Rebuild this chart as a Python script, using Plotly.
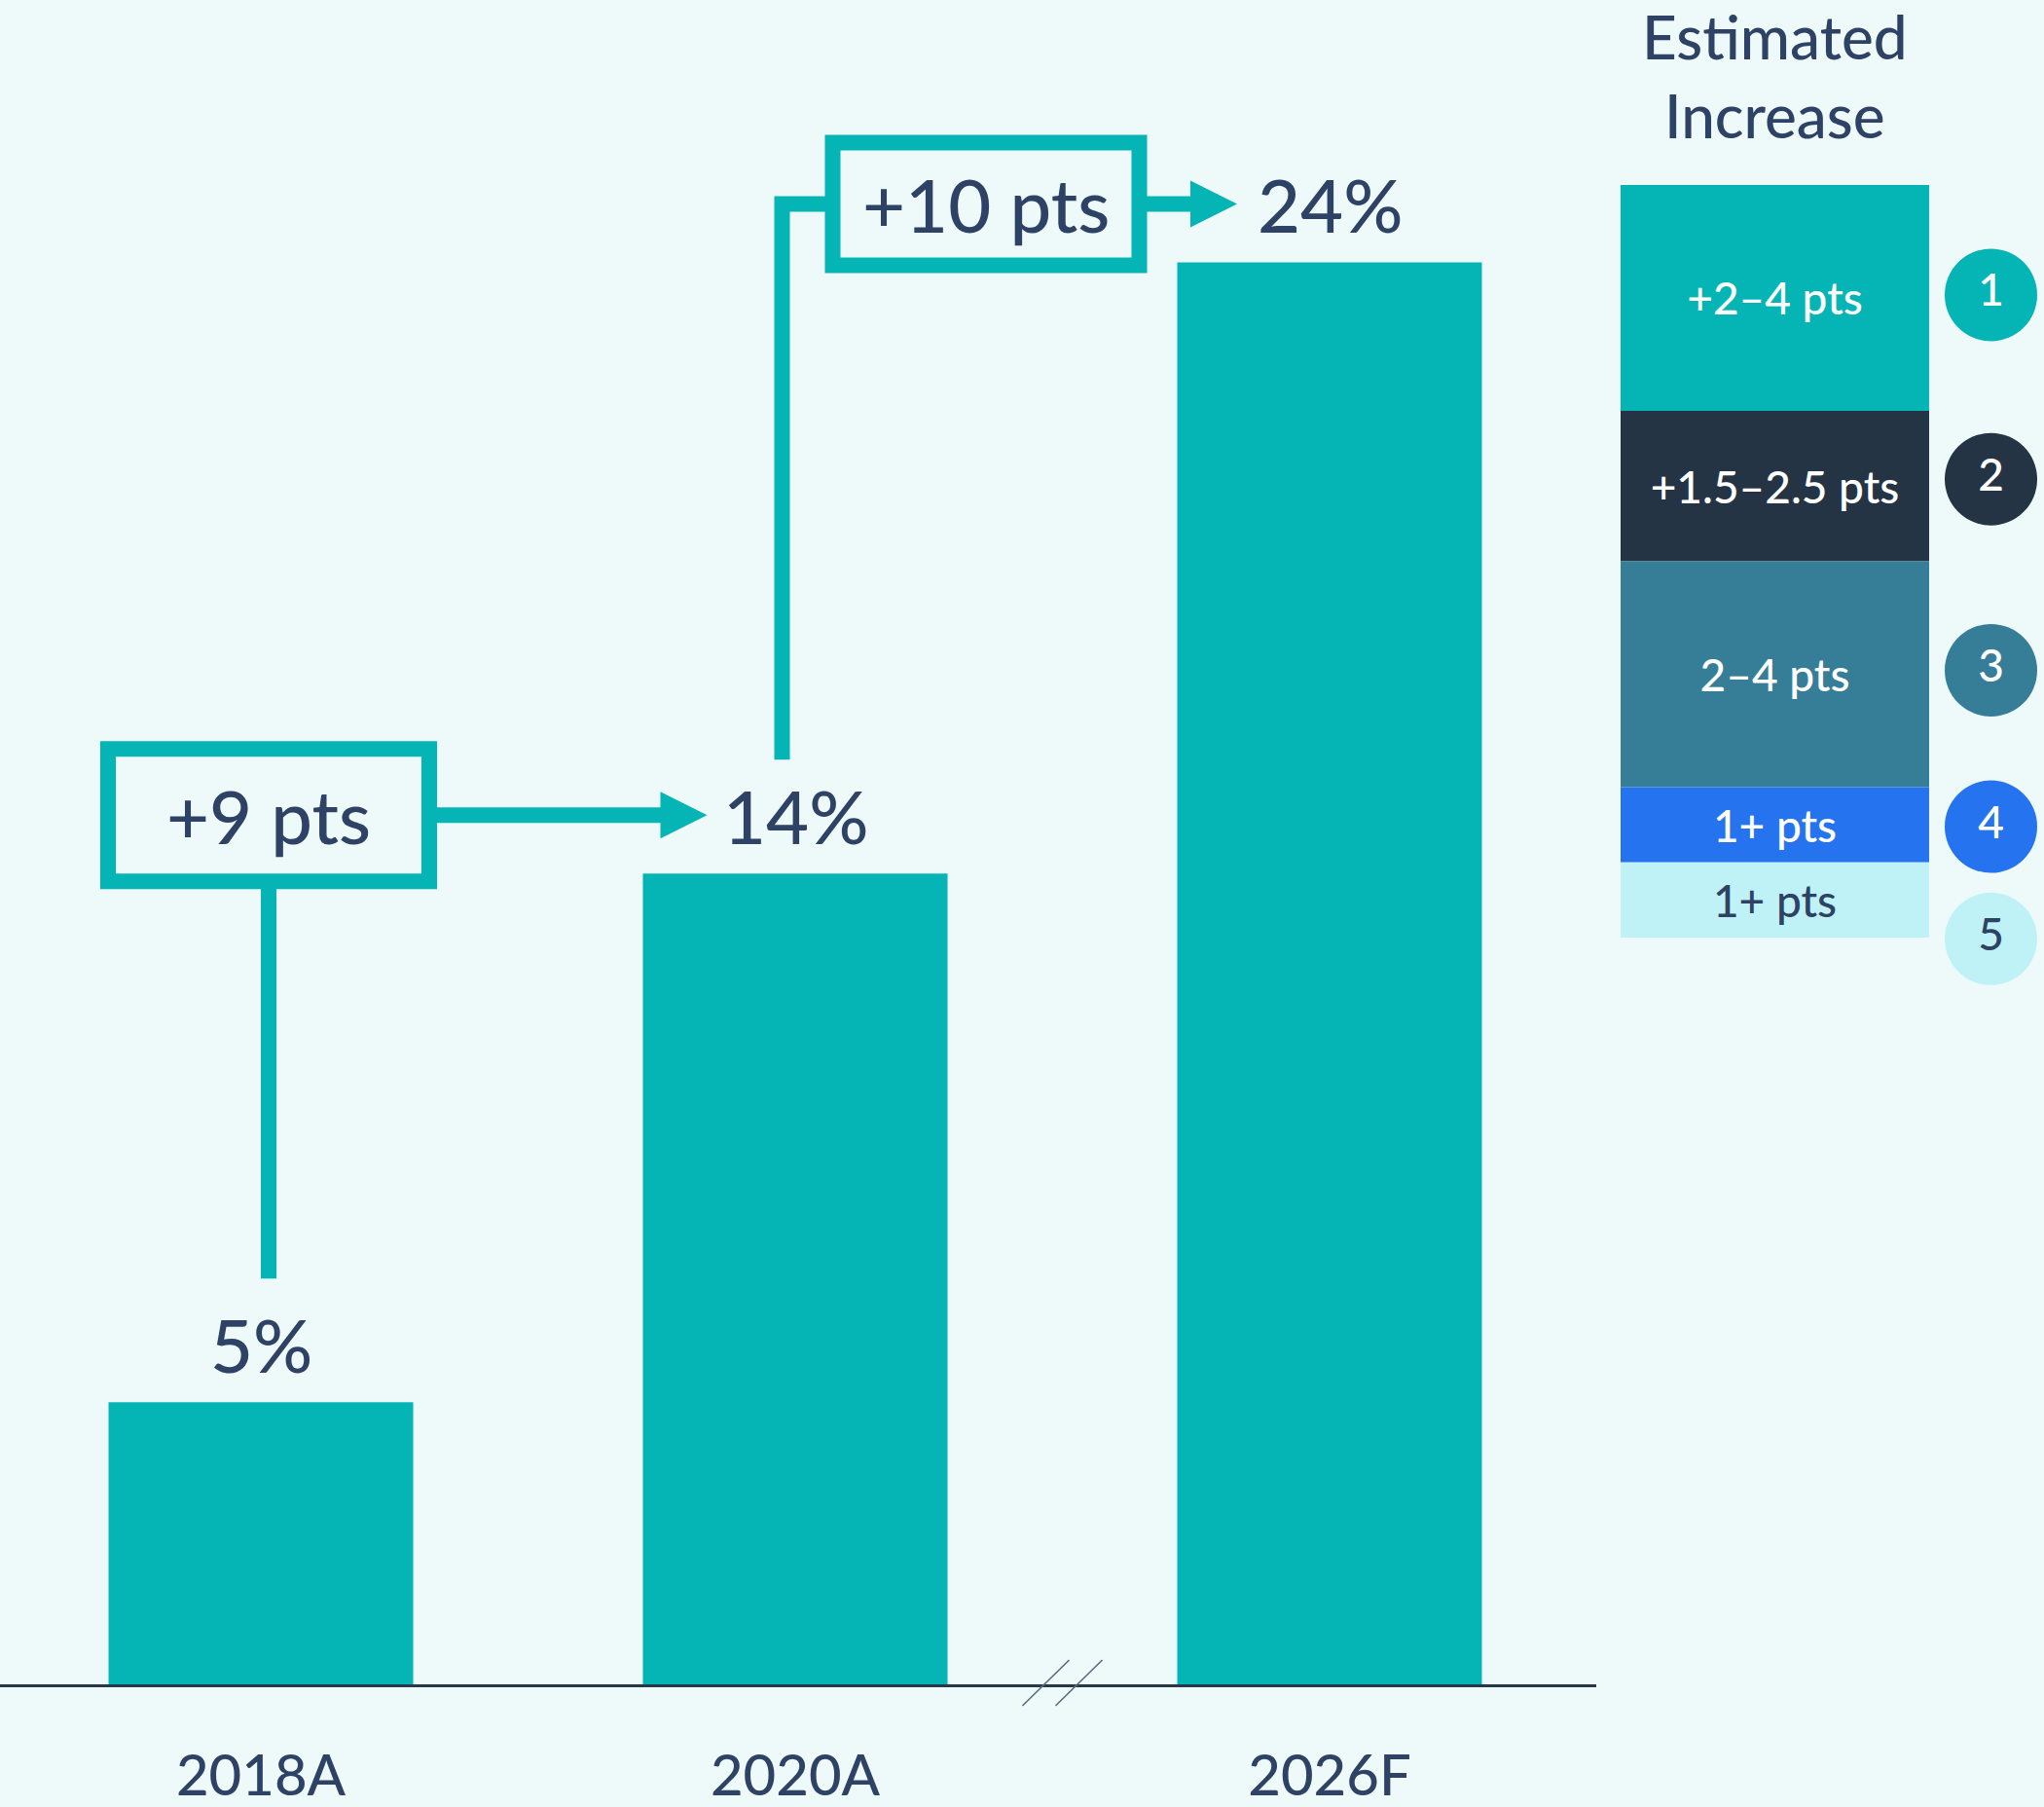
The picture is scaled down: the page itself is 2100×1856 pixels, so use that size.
import plotly.graph_objects as go

# ---------------- data ----------------
categories = ["2018A", "2020A", "2026F"]
share_values = [4.8, 13.8, 24.2]          # bar heights (%)
share_labels = ["5%", "14%", "24%"]
step_labels = ["+9 pts", "+10 pts"]

legend_title = "Estimated<br>Increase"
driver_labels = ["+2–4 pts", "+1.5–2.5 pts", "2–4 pts", "1+ pts", "1+ pts"]
driver_values = [3, 2, 3, 1, 1]             # top to bottom
driver_numbers = ["1", "2", "3", "4", "5"]

# ---------------- style ----------------
W, H = 2100, 1856
BG = "#EEFAFA"
TEAL = "#05B4B5"
NAVY = "#2D4265"
AXIS = "#27384A"
driver_colors = ["#05B4B5", "#243444", "#367D97", "#2673F0", "#BEF2F6"]
driver_text_colors = ["white", "white", "white", "white", NAVY]
FONT = "Lato"
FW = 500

PLOT_H = 1730            # plot area height in px (bottom margin 126)
MAIN_W = 1640            # width of main x axis in px
X_RANGE = [-0.4882, 2.4991]
PX_X = MAIN_W / (X_RANGE[1] - X_RANGE[0])
PX_Y = 60.35
Y_RANGE = [0, PLOT_H / PX_Y]

LEG_X0 = 1665
LEG_W = 317
X2_RANGE = [-0.5, -0.5 + (W - LEG_X0) / LEG_W]
PX_Y2 = 77.3
LEG_BASE_PX = 963
Y2_RANGE = [-(PLOT_H - LEG_BASE_PX) / PX_Y2, LEG_BASE_PX / PX_Y2]
circle_x = -0.5 + (2045.5 - LEG_X0) / LEG_W
circle_nudge_px = [3, 7, 4, -2, -40]


def dx(p):
    return p / PX_X


def dy(p):
    return p / PX_Y


xpos = list(range(len(categories)))
label_y = [v + dy(60) for v in share_values]

fig = go.Figure()

fig.add_trace(go.Bar(
    x=xpos, y=share_values, width=313 / PX_X,
    marker=dict(color=TEAL, line=dict(width=0)),
    hoverinfo="skip", showlegend=False,
))

# legend stack
n = len(driver_values)
bases = [sum(driver_values[i + 1:]) for i in range(n)]
fig.add_trace(go.Bar(
    x=[0] * n, y=driver_values, base=bases, width=1,
    xaxis="x2", yaxis="y2",
    marker=dict(color=driver_colors, line=dict(width=0)),
    text=driver_labels, textposition="inside", insidetextanchor="middle",
    textangle=0, constraintext="none",
    textfont=dict(family=FONT, size=46, color=driver_text_colors, weight=FW),
    hoverinfo="skip", showlegend=False,
))

mids = [b + v / 2 + nd / PX_Y2 for b, v, nd in zip(bases, driver_values, circle_nudge_px)]
fig.add_trace(go.Scatter(
    x=[circle_x] * n, y=mids, xaxis="x2", yaxis="y2",
    mode="markers+text",
    marker=dict(size=95, color=driver_colors, line=dict(width=0)),
    text=driver_numbers, textposition="middle center",
    textfont=dict(family=FONT, size=46, color=driver_text_colors, weight=FW),
    hoverinfo="skip", showlegend=False,
))

shapes = []
LW = 16
# box A (+9 pts)
a_cx, a_cy = 0 + dx(8), label_y[1]
a_hw, a_hh = dx(173), dy(76)
shapes.append(dict(type="rect", xref="x", yref="y",
                   x0=a_cx - a_hw + dx(LW / 2), x1=a_cx + a_hw - dx(LW / 2),
                   y0=a_cy - a_hh + dy(LW / 2), y1=a_cy + a_hh - dy(LW / 2),
                   line=dict(color=TEAL, width=LW), layer="above"))
# vertical from 5% up to box A
shapes.append(dict(type="line", xref="x", yref="y",
                   x0=a_cx, x1=a_cx, y0=label_y[0] + dy(67), y1=a_cy - a_hh + dy(2),
                   line=dict(color=TEAL, width=LW), layer="above"))
# arrow A
tipA = 1 - dx(90.5)
shapes.append(dict(type="line", xref="x", yref="y",
                   x0=a_cx + a_hw - dx(2), x1=tipA - dx(46), y0=a_cy, y1=a_cy,
                   line=dict(color=TEAL, width=LW), layer="above"))
shapes.append(dict(type="path", xref="x", yref="y",
                   path=f"M {tipA - dx(48)},{a_cy + dy(24)} L {tipA},{a_cy} L {tipA - dx(48)},{a_cy - dy(24)} Z",
                   fillcolor=TEAL, line=dict(width=0), layer="above"))
# box B (+10 pts)
b_cx, b_cy = 1 + dx(196), label_y[2]
b_hw, b_hh = dx(165.5), dy(71)
shapes.append(dict(type="rect", xref="x", yref="y",
                   x0=b_cx - b_hw + dx(LW / 2), x1=b_cx + b_hw - dx(LW / 2),
                   y0=b_cy - b_hh + dy(LW / 2), y1=b_cy + b_hh - dy(LW / 2),
                   line=dict(color=TEAL, width=LW), layer="above"))
# elbow from 14% up to box B
ex = 1 - dx(13.5)
shapes.append(dict(type="path", xref="x", yref="y",
                   path=f"M {ex},{label_y[1] + dy(57)} L {ex},{b_cy} L {b_cx - b_hw + dx(2)},{b_cy}",
                   line=dict(color=TEAL, width=LW), layer="above"))
# arrow B
tipB = 2 - dx(95)
shapes.append(dict(type="line", xref="x", yref="y",
                   x0=b_cx + b_hw - dx(2), x1=tipB - dx(46), y0=b_cy, y1=b_cy,
                   line=dict(color=TEAL, width=LW), layer="above"))
shapes.append(dict(type="path", xref="x", yref="y",
                   path=f"M {tipB - dx(48)},{b_cy + dy(24)} L {tipB},{b_cy} L {tipB - dx(48)},{b_cy - dy(24)} Z",
                   fillcolor=TEAL, line=dict(width=0), layer="above"))
# axis break marks
for off in (0, 34):
    shapes.append(dict(type="line", xref="x", yref="paper",
                       xsizemode="pixel", xanchor=1.5, ysizemode="pixel", yanchor=0,
                       x0=-41 + off, x1=7 + off, y0=-22, y1=25,
                       line=dict(color="#5A6A80", width=1.6), layer="above"))

annotations = []
for i, t in enumerate(share_labels):
    annotations.append(dict(x=i, y=label_y[i], xref="x", yref="y", text=t,
                            showarrow=False, xanchor="center", yanchor="middle",
                            font=dict(family=FONT, size=76, color=NAVY, weight=FW)))
for (cx, cy), t in zip([(a_cx, a_cy), (b_cx, b_cy)], step_labels):
    annotations.append(dict(x=cx, y=cy, xref="x", yref="y", text=t,
                            showarrow=False, xanchor="center", yanchor="middle",
                            font=dict(family=FONT, size=76, color=NAVY, weight=FW)))
annotations.append(dict(x=0, xref="x2", y=(PLOT_H - 77) / PLOT_H, yref="paper",
                        text=legend_title, showarrow=False,
                        xanchor="center", yanchor="middle",
                        font=dict(family=FONT, size=62, color=NAVY, weight=FW)))

fig.update_layout(
    width=W, height=H, autosize=False,
    margin=dict(l=0, r=0, t=0, b=H - PLOT_H, pad=0),
    paper_bgcolor=BG, plot_bgcolor=BG,
    barmode="overlay", showlegend=False,
    shapes=shapes, annotations=annotations,
    xaxis=dict(domain=[0, MAIN_W / W], range=X_RANGE, tickvals=xpos, ticktext=categories,
               showgrid=False, zeroline=False, showline=True, linecolor=AXIS, linewidth=3,
               ticks="", ticklabelstandoff=41, automargin=False,
               tickfont=dict(family=FONT, size=58, color=NAVY, weight=FW), fixedrange=True),
    yaxis=dict(range=Y_RANGE, visible=False, fixedrange=True),
    xaxis2=dict(domain=[LEG_X0 / W, 1], range=X2_RANGE, visible=False, anchor="y2"),
    yaxis2=dict(domain=[0, 1], range=Y2_RANGE, visible=False, anchor="x2"),
)

fig.write_html("out.html", config={"displayModeBar": False},
               post_script="document.body.style.margin='0';document.body.style.background='" + BG + "';")
